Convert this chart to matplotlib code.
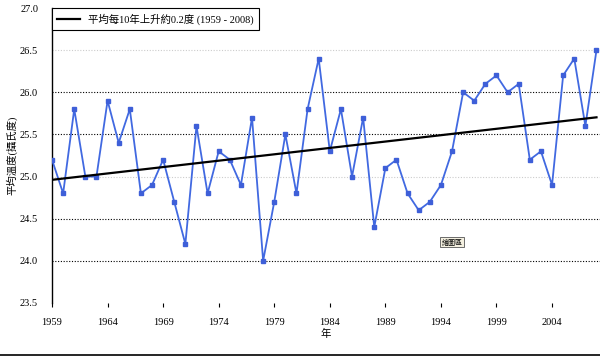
import matplotlib
matplotlib.use('Agg')
from matplotlib import pyplot as plt
import numpy as np

years = list(range(1959, 2009))
temps = [25.2, 24.8, 25.8, 25.0, 25.0, 25.9, 25.4, 25.8, 24.8, 24.9,
         25.2, 24.7, 24.2, 25.6, 24.8, 25.3, 25.2, 24.9, 25.7, 24.0,
         24.7, 25.5, 24.8, 25.8, 26.4, 25.3, 25.8, 25.0, 25.7, 24.4,
         25.1, 25.2, 24.8, 24.6, 24.7, 24.9, 25.3, 26.0, 25.9, 26.1,
         26.2, 26.0, 26.1, 25.2, 25.3, 24.9, 26.2, 26.4, 25.6, 26.5]
trend_label = '平均每10年上升約0.2度 (1959 - 2008)'
y_ticks = [23.5, 24.0, 24.5, 25.0, 25.5, 26.0, 26.5, 27.0]
x_ticks = list(range(1959, 2009, 5))

fonts = ['Liberation Serif', 'Noto Sans CJK TC']
plt.rcParams['font.family'] = fonts

fig = plt.figure(figsize=(6, 3.56), dpi=100)
ax = fig.add_axes([0.0867, 0.149, 0.913, 0.8285])

# gridlines (some look faint in the reference)
for v in [24.0, 24.5, 25.5, 26.0]:
    ax.axhline(v, color='black', lw=0.8, ls=(0, (1, 1.5)), zorder=1)
for v in [25.0, 26.5]:
    ax.axhline(v, color='#cccccc', lw=0.8, ls=(0, (1, 1.5)), zorder=1)

ax.plot(years, temps, color='#4169e1', lw=1.3, marker='s', ms=3.2,
        mfc='#3e5fd8', mec='#3e5fd8', zorder=3)

# linear trend
x = np.array(years)
k, b = np.polyfit(x, np.array(temps), 1)
ax.plot(x, k * x + b, color='black', lw=1.6, zorder=4, label=trend_label)

ax.set_xlim(1959, 2008.3)
ax.set_ylim(23.5, 27.0)
ax.set_yticks(y_ticks)
ax.set_yticklabels(['%.1f' % v for v in y_ticks], fontsize=7.5)
ax.set_xticks(x_ticks)
ax.set_xticklabels([str(v) for v in x_ticks], fontsize=7.5)
ax.tick_params(axis='y', length=0, pad=10)
ax.tick_params(axis='x', length=3, width=0.8, pad=8, color='black')

for s in ['top', 'right', 'bottom']:
    ax.spines[s].set_visible(False)
ax.spines['left'].set_linewidth(1.0)

ax.set_ylabel('平均溫度(攝氏度)', fontsize=7.5, labelpad=2)
ax.set_xlabel('年', fontsize=7.5, labelpad=1)

leg = ax.legend(loc='upper left', borderaxespad=0, fontsize=7.5,
                fancybox=False, edgecolor='black', framealpha=1,
                handlelength=2.2, borderpad=0.5)
leg.get_frame().set_linewidth(0.8)

ax.text(1995, 24.22, '繪圖區', fontsize=5, ha='center', va='center',
        bbox=dict(boxstyle='square,pad=0.2', fc='#f4f0e0', ec='#555555', lw=0.6))

fig.add_artist(plt.Line2D([0, 1], [0.003, 0.003], color='black', lw=1.2,
                          transform=fig.transFigure))

fig.savefig('out.png', dpi=100)
